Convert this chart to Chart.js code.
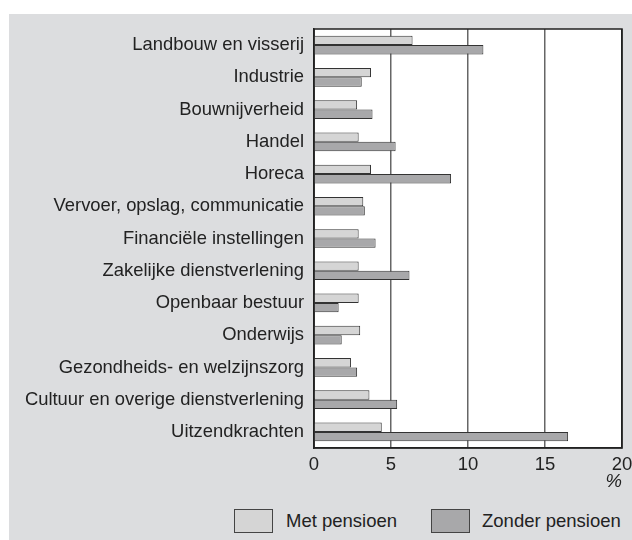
<!DOCTYPE html>
<html>
<head>
<meta charset="utf-8">
<script src="https://cdn.jsdelivr.net/npm/chart.js@4"></script>
<style>
    body { margin: 0; background: #ffffff; font-family: "Liberation Sans", Arial, sans-serif; }
    #panel { position: absolute; left: 9px; top: 14px; width: 623px; height: 526px; background: #dcdddf; }
    #wrap { position: absolute; left: 0; top: 0; width: 623px; height: 477px; }
    .legend-box { position: absolute; top: 495px; width: 37px; height: 22px; border: 1px solid #444; }
    .legend-text { position: absolute; top: 496px; font-size: 18.5px; color: #222; line-height: 22px; }
</style>
</head>
<body>
<div id="panel">
    <div id="wrap"><canvas id="graphic"></canvas></div>
    <div class="legend-box" style="left:225px; background:#d5d5d5"></div>
    <div class="legend-text" style="left:277px">Met pensioen</div>
    <div class="legend-box" style="left:422px; background:#a8a8aa"></div>
    <div class="legend-text" style="left:473px">Zonder pensioen</div>
</div>
<script>
let sectors = [
    "Landbouw en visserij",
    "Industrie",
    "Bouwnijverheid",
    "Handel",
    "Horeca",
    "Vervoer, opslag, communicatie",
    "Financiële instellingen",
    "Zakelijke dienstverlening",
    "Openbaar bestuur",
    "Onderwijs",
    "Gezondheids- en welzijnszorg",
    "Cultuur en overige dienstverlening",
    "Uitzendkrachten",
]
let metPensioen = [6.4, 3.7, 2.8, 2.9, 3.7, 3.2, 2.9, 2.9, 2.9, 3.0, 2.4, 3.6, 4.4]
let zonderPensioen = [11.0, 3.1, 3.8, 5.3, 8.9, 3.3, 4.0, 6.2, 1.6, 1.8, 2.8, 5.4, 16.5]
let xTicks = [0, 5, 10, 15, 20]

let lightFill = "#d5d5d5"
let darkFill = "#a8a8aa"
let barBorder = "#333333"
let textColor = "#222222"

// white plot area with dark frame
const plotFrame = {
    id: "plotFrame",
    beforeDatasetsDraw(chart) {
        const a = chart.chartArea
        const ctx = chart.ctx
        ctx.save()
        ctx.strokeStyle = "#222"
        ctx.lineWidth = 1.5
        ctx.strokeRect(a.left, a.top, a.right - a.left, a.bottom - a.top)
        ctx.restore()
    },
    beforeDraw(chart) {
        const a = chart.chartArea
        const ctx = chart.ctx
        ctx.save()
        ctx.fillStyle = "#ffffff"
        ctx.fillRect(a.left, a.top, a.right - a.left, a.bottom - a.top)
        ctx.restore()
    },
}

const chartID = document.getElementById("graphic").getContext("2d")
let graphic = new Chart(chartID, {
    type: "bar",
    data: {
        labels: sectors,
        datasets: [
            {
                label: "Met pensioen",
                data: metPensioen,
                backgroundColor: lightFill,
                borderColor: barBorder,
                borderWidth: 1,
                categoryPercentage: 0.58,
                barPercentage: 1.0,
            },
            {
                label: "Zonder pensioen",
                data: zonderPensioen,
                backgroundColor: darkFill,
                borderColor: barBorder,
                borderWidth: 1,
                categoryPercentage: 0.58,
                barPercentage: 1.0,
            },
        ],
    },
    options: {
        indexAxis: "y",
        responsive: true,
        maintainAspectRatio: false,
        animation: false,
        layout: { padding: { top: 15, right: 0, left: 0, bottom: 0 } },
        plugins: {
            legend: { display: false },
            tooltip: { enabled: false },
        },
        scales: {
            x: {
                min: 0,
                max: 20,
                afterBuildTicks: (scale) => {
                    scale.ticks = xTicks.map((v) => ({ value: v }))
                },
                afterFit: (scale) => {
                    scale.paddingRight = 10
                    scale.paddingLeft = 0
                },
                grid: {
                    color: (c) => (c.tick && (c.tick.value === 0 || c.tick.value === 20) ? "#222" : "#666"),
                    lineWidth: 1.5,
                    drawTicks: false,
                },
                border: { color: "#222", width: 1.5 },
                ticks: {
                    color: textColor,
                    padding: 8,
                    maxRotation: 0,
                    font: { family: "Liberation Sans", size: 18.5, lineHeight: 1 },
                },
                title: {
                    display: true,
                    text: "%",
                    align: "end",
                    color: textColor,
                    padding: { top: -10, bottom: 0 },
                    font: { family: "Liberation Sans", size: 18.5, style: "italic", lineHeight: 1 },
                },
            },
            y: {
                grid: { display: false, drawTicks: false },
                border: { color: "#222", width: 1.5 },
                afterFit: (scale) => {
                    scale.width = 305
                    scale.paddingTop = 0
                    scale.paddingBottom = 0
                },
                ticks: {
                    color: textColor,
                    padding: 10,
                    autoSkip: false,
                    font: { family: "Liberation Sans", size: 18.4 },
                },
            },
        },
    },
    plugins: [plotFrame],
})
</script>
</body>
</html>
